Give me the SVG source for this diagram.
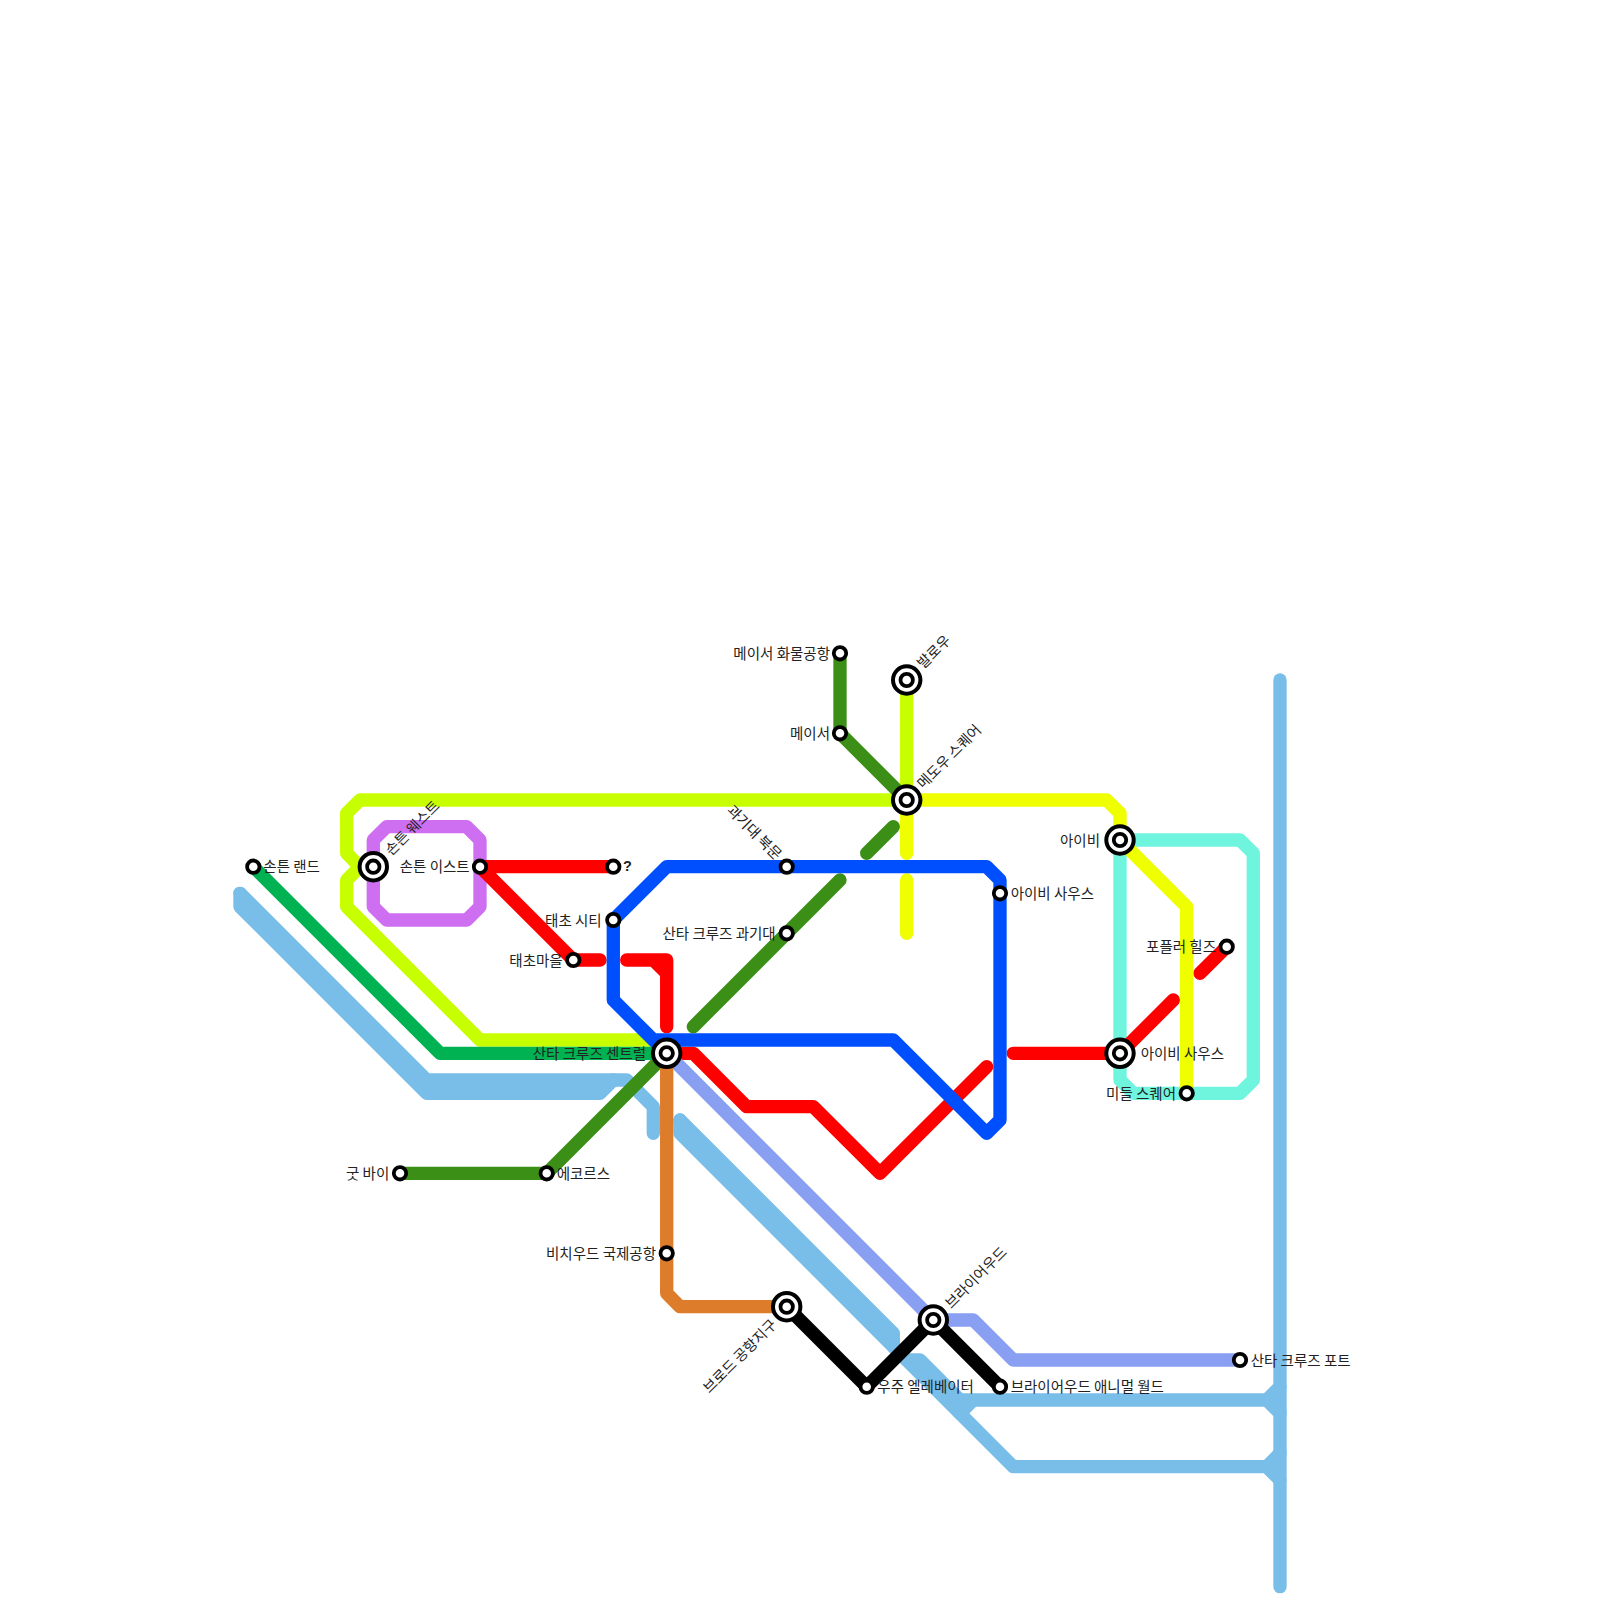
<svg xmlns="http://www.w3.org/2000/svg" width="1600" height="1600" viewBox="0 0 1600 1600">
<style>
.l{fill:none;stroke-width:13.33;stroke-linecap:round;stroke-linejoin:round}
.s{fill:#fff;stroke:#000;stroke-width:3.8}
.o{fill:#fff;stroke:#000;stroke-width:4}
text{font-family:"Noto Sans CJK KR","Liberation Sans",sans-serif;font-size:14.5px;fill:#222;dominant-baseline:central}
.e{text-anchor:end}
</style>
<rect width="1600" height="1600" fill="#fff"/>
<g id="connectors">
<g class="l" stroke="#79bde9">
<path class="l" d="M1280 680V1586.7"/>
<path class="l" d="M240 893.3L426.7 1080H626.7L653.3 1106.7V1133.3"/>
<path class="l" d="M240 893.3V906.7L426.7 1093.3H600L613.3 1080M240 900L426.7 1086.7H600"/>
<path class="l" d="M680 1120L893.3 1333.3V1346.7L1013.3 1466.7H1266.7L1280 1453.3M1266.7 1466.7L1280 1480"/>
<path class="l" d="M680 1120V1133.3L893.3 1346.7M680 1126.7L893.3 1340"/>
<path class="l" d="M906.7 1360H920L960 1400H1266.7L1280 1386.7M1266.7 1400L1280 1413.3M973.3 1400L960 1413.3"/>
</g>
<path class="l" stroke="#c8ff00" d="M906.7 800H360L346.7 813.3V853.3L360 866.7H373.3M360 866.7L346.7 880V906.7L480 1040H653.3L666.7 1053.3M906.7 680V800"/>
<path class="l" stroke="#00b251" d="M253.3 866.7L440 1053.3H666.7"/>
<path class="l" stroke="#3c8f16" d="M840 653.3V733.3L906.7 800M893.3 826.7L866.7 853.3M840 880L693.3 1026.7M666.7 1053.3L546.7 1173.3H400"/>
<path class="l" stroke="#6ff5de" d="M1120 840H1240L1253.3 853.3V1080L1240 1093.3H1133.3L1120 1080Z"/>
<path class="l" stroke="#ce6ff2" d="M373.3 866.7V840L386.7 826.7H466.7L480 840V906.7L466.7 920H386.7L373.3 906.7Z"/>
<path class="l" stroke="#ff0000" d="M613.3 866.7H480L573.3 960H600M626.7 960H653.3L666.7 973.3V1026.7M653.3 960H666.7V973.3M666.7 1053.3H693.3L746.7 1106.7H813.3L880 1173.3L986.7 1066.7M1013.3 1053.3H1120L1173.3 1000M1200 973.3L1226.7 946.7"/>
<path class="l" stroke="#efff00" d="M906.7 800V853.3M906.7 880V933.3M906.7 800H1106.7L1120 813.3V840L1186.7 906.7V1093.3"/>
<path class="l" stroke="#899ff1" d="M666.7 1053.3L933.3 1320H973.3L1013.3 1360H1240"/>
<path class="l" stroke="#dd7c2b" d="M666.7 1053.3V1293.3L680 1306.7H786.7"/>
<path class="l" stroke="#004fff" d="M666.7 1053.3L613.3 1000V920L666.7 866.7H986.7L1000 880V1120L986.7 1133.3L893.3 1040H653.3"/>
<path class="l" stroke="#000" d="M786.7 1306.7L866.7 1386.7L933.3 1320L1000 1386.7"/>
</g>
<g id="n1"><circle class="s" cx="253.3" cy="866.7" r="6.2"/><text x="263.3" y="865.7">손튼 랜드</text></g>
<g id="n2"><circle class="o" cx="373.3" cy="866.7" r="13.7"/><circle class="s" cx="373.3" cy="866.7" r="6.2"/><text x="386.7" y="851.7" transform="rotate(-45 386.7 851.7)">손튼 웨스트</text></g>
<g id="n3"><circle class="s" cx="480" cy="866.7" r="6.2"/><text class="e" x="469.7" y="865.7">손튼 이스트</text></g>
<g id="n4"><circle class="s" cx="613.3" cy="866.7" r="6.2"/><text x="623" y="865.7" style="font-family:'Liberation Sans',sans-serif;font-weight:700">?</text></g>
<g id="n5"><circle class="s" cx="613.3" cy="920" r="6.2"/><text class="e" x="601.7" y="919">태초 시티</text></g>
<g id="n6"><circle class="s" cx="573.3" cy="960" r="6.2"/><text class="e" x="562.7" y="959">태초마을</text></g>
<g id="n7"><circle class="o" cx="666.7" cy="1053.3" r="13.7"/><circle class="s" cx="666.7" cy="1053.3" r="6.2"/><text class="e" x="646" y="1052.3">산타 크루즈 센트럴</text></g>
<g id="n8"><circle class="s" cx="400" cy="1173.3" r="6.2"/><text class="e" x="389.3" y="1172.3">굿 바이</text></g>
<g id="n9"><circle class="s" cx="546.7" cy="1173.3" r="6.2"/><text x="556.7" y="1172.3">에코르스</text></g>
<g id="n10"><circle class="s" cx="840" cy="653.3" r="6.2"/><text class="e" x="830" y="652.3">메이서 화물공항</text></g>
<g id="n11"><circle class="s" cx="840" cy="733.3" r="6.2"/><text class="e" x="830" y="732.3">메이서</text></g>
<g id="n12"><circle class="o" cx="906.7" cy="680" r="13.7"/><circle class="s" cx="906.7" cy="680" r="6.2"/><text x="918.7" y="665" transform="rotate(-45 918.7 665)">발로우</text></g>
<g id="n13"><circle class="o" cx="906.7" cy="800" r="13.7"/><circle class="s" cx="906.7" cy="800" r="6.2"/><text x="918.7" y="785" transform="rotate(-45 918.7 785)">메도우 스퀘어</text></g>
<g id="n14"><circle class="s" cx="786.7" cy="866.7" r="6.2"/><text class="e" x="780" y="856" transform="rotate(45 780 856)">과기대 북문</text></g>
<g id="n15"><circle class="s" cx="786.7" cy="933.3" r="6.2"/><text class="e" x="775.7" y="932.3">산타 크루즈 과기대</text></g>
<g id="n16"><circle class="s" cx="1000" cy="893.3" r="6.2"/><text x="1010.7" y="892.3">아이비 사우스</text></g>
<g id="n17"><circle class="o" cx="1120" cy="840" r="13.7"/><circle class="s" cx="1120" cy="840" r="6.2"/><text class="e" x="1100" y="839">아이비</text></g>
<g id="n18"><circle class="o" cx="1120" cy="1053.3" r="13.7"/><circle class="s" cx="1120" cy="1053.3" r="6.2"/><text x="1140.7" y="1052.3">아이비 사우스</text></g>
<g id="n19"><circle class="s" cx="1186.7" cy="1093.3" r="6.2"/><text class="e" x="1176" y="1092.3">미들 스퀘어</text></g>
<g id="n20"><circle class="s" cx="1226.7" cy="946.7" r="6.2"/><text class="e" x="1216" y="945.7">포플러 힐즈</text></g>
<g id="n21"><circle class="s" cx="666.7" cy="1253.3" r="6.2"/><text class="e" x="656" y="1252.3">비치우드 국제공항</text></g>
<g id="n22"><circle class="o" cx="786.7" cy="1306.7" r="13.7"/><circle class="s" cx="786.7" cy="1306.7" r="6.2"/><text class="e" x="773" y="1321" transform="rotate(-45 773 1321)">브로드 공항지구</text></g>
<g id="n23"><circle class="s" cx="866.7" cy="1386.7" r="6.2"/><text x="877.3" y="1385.7">우주 엘레베이터</text></g>
<g id="n24"><circle class="o" cx="933.3" cy="1320" r="13.7"/><circle class="s" cx="933.3" cy="1320" r="6.2"/><text x="946.7" y="1305" transform="rotate(-45 946.7 1305)">브라이어우드</text></g>
<g id="n25"><circle class="s" cx="1000" cy="1386.7" r="6.2"/><text x="1010.7" y="1385.7">브라이어우드 애니멀 월드</text></g>
<g id="n26"><circle class="s" cx="1240" cy="1360" r="6.2"/><text x="1250.7" y="1359">산타 크루즈 포트</text></g>
</svg>
